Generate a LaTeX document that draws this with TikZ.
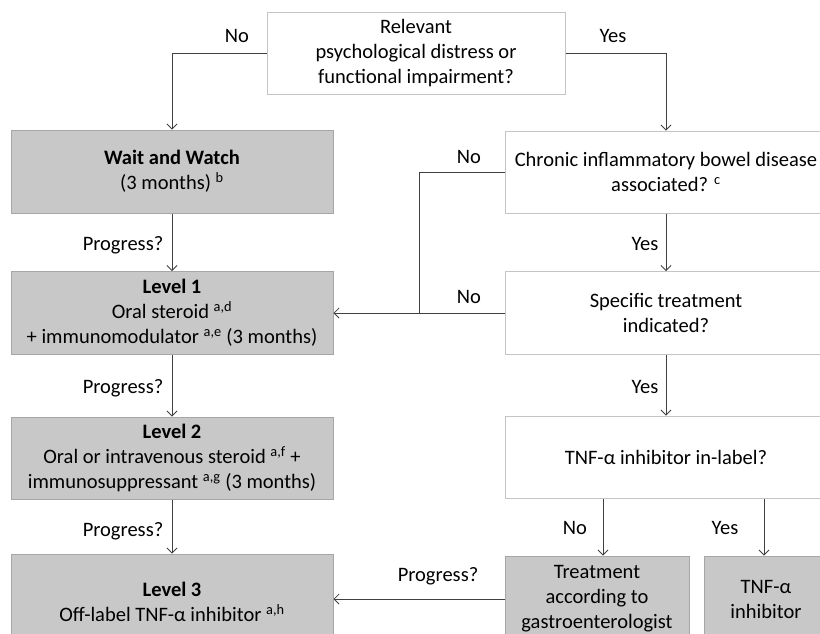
\documentclass[tikz,border=0pt]{standalone}
\usepackage{fontspec}
\setmainfont{Carlito}
\usetikzlibrary{arrows.meta}

\definecolor{boxgrey}{HTML}{C8C8C8}
\definecolor{boxedge}{HTML}{A6A6A6}
\definecolor{lightedge}{HTML}{C4C4C4}
\definecolor{linegrey}{HTML}{404040}

\tikzset{
    greybox/.style={draw=boxedge,fill=boxgrey,line width=1pt,align=center,inner sep=0pt},
    whitebox/.style={draw=lightedge,fill=white,line width=1pt,align=center,inner sep=0pt},
    flowline/.style={draw=linegrey,line width=0.9pt},
    flowarrow/.style={flowline,-{Straight Barb[length=5pt,width=10pt,line width=0.8pt]}},
    answer/.style={inner sep=0pt,text=black}
}

\begin{document}
\begin{tikzpicture}[x=1pt,y=-1pt,font=\fontsize{20.5}{25}\selectfont]
    \pgfmathsetmacro{\leftwidth}{322}
    \pgfmathsetmacro{\rightwidth}{322}
    \pgfmathsetmacro{\boxheight}{82}
    \pgfmathsetmacro{\bottomheight}{86}
    \providecommand{\sups}[1]{\textsuperscript{#1}}
    \useasboundingbox (0,0) rectangle (820,633);
    % left column
    \node[whitebox,minimum width=298,minimum height=\boxheight] (question) at (416,53)
    {Relevant\\psychological distress or\\functional impairment?};
    \node[greybox,minimum width=\leftwidth,minimum height=83] (wait) at (172,171.5)
    {\textbf{Wait and Watch}\\(3 months) \sups{b}};
    \node[greybox,minimum width=\leftwidth,minimum height=83] (lvlone) at (172,313)
    {\textbf{Level 1}\\Oral steroid \sups{a,d}\\+ immunomodulator \sups{a,e} (3 months)};
    \node[greybox,minimum width=\leftwidth,minimum height=\boxheight] (lvltwo) at (172,458)
    {\textbf{Level 2}\\Oral or intravenous steroid \sups{a,f} +\\immunosuppressant \sups{a,g} (3 months)};
    \node[greybox,minimum width=\leftwidth,minimum height=96] (lvlthree) at (172,602)
    {\textbf{Level 3}\\Off-label TNF-α inhibitor \sups{a,h}};
    % right column
    \node[whitebox,minimum width=\rightwidth,minimum height=\boxheight] (chronic) at (666,172)
    {Chronic inflammatory bowel disease\\associated? \sups{c}};
    \node[whitebox,minimum width=\rightwidth,minimum height=83] (specific) at (666,313)
    {Specific treatment\\indicated?};
    \node[whitebox,minimum width=\rightwidth,minimum height=\boxheight] (tnfquery) at (666,457)
    {TNF-α inhibitor in-label?};
    \node[greybox,minimum width=184,minimum height=\bottomheight] (treatment) at (597,599)
    {Treatment\\according to\\gastroenterologist};
    \node[greybox,minimum width=124,minimum height=\bottomheight] (tnfdrug) at (766,599)
    {TNF-α\\inhibitor};
    \coordinate (join) at (419,313);
    % connectors
    \draw[flowarrow] (question.west) -| (wait.north);
    \draw[flowarrow] (question.east) -| (chronic.north);
    \draw[flowarrow] (wait.south) -- (lvlone.north);
    \draw[flowarrow] (lvlone.south) -- (lvltwo.north);
    \draw[flowarrow] (lvltwo.south) -- (lvlthree.north);
    \draw[flowarrow] (chronic.south) -- (specific.north);
    \draw[flowarrow] (specific.south) -- (tnfquery.north);
    \draw[flowline] (chronic.west) -| (join);
    \draw[flowarrow] (specific.west) -- (lvlone.east);
    \draw[flowarrow] ([xshift=6pt]treatment.north |- tnfquery.south) -- ([xshift=6pt]treatment.north);
    \draw[flowarrow] ([xshift=-2pt]tnfdrug.north |- tnfquery.south) -- ([xshift=-2pt]tnfdrug.north);
    \draw[flowarrow] (treatment.west) -- (treatment.west -| lvlthree.east);
    % answers
    \node[answer] (nowait) at (237,36) {No};
    \node[answer] (yeschronic) at (613,36) {Yes};
    \node[answer] (nochronic) at (469,157) {No};
    \node[answer] (nospecific) at (469,297) {No};
    \node[answer] (yesspecific) at (645,244) {Yes};
    \node[answer] (yestnf) at (645,387) {Yes};
    \node[answer] (notreat) at (575,528) {No};
    \node[answer] (yesdrug) at (725,528) {Yes};
    \node[answer] (progone) at (123,245) {Progress?};
    \node[answer] (progtwo) at (123,388) {Progress?};
    \node[answer] (progthree) at (123,531) {Progress?};
    \node[answer] (progfour) at (438,576) {Progress?};
\end{tikzpicture}
\end{document}
